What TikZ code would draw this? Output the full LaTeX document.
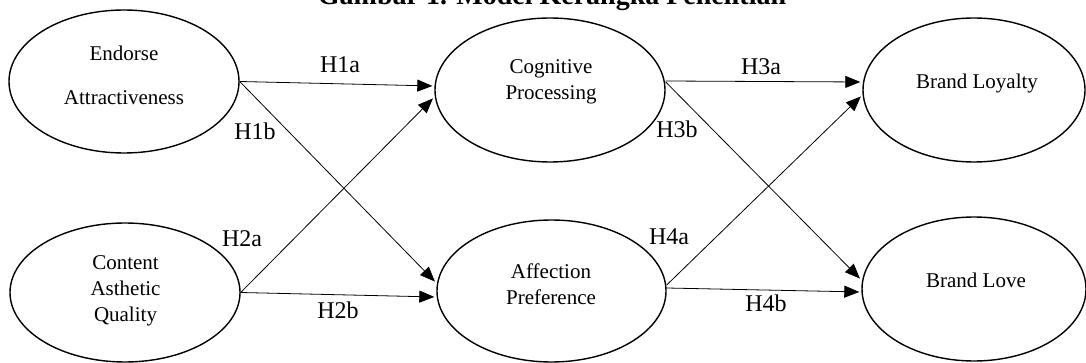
\documentclass[tikz,border=0pt]{standalone}
\usepackage{fontspec}
\setmainfont{Liberation Serif}
\usetikzlibrary{shapes.geometric,arrows.meta}
\begin{document}
\begin{tikzpicture}[x=1pt,y=-1pt,
  var/.style={draw,ellipse,line width=1.4pt,inner sep=0pt,minimum width=230pt,minimum height=143pt},
  vartext/.style={align=center,inner sep=0pt,font=\fontsize{21}{26}\selectfont},
  hyp/.style={inner sep=0pt,font=\fontsize{24}{28}\selectfont},
  link/.style={-{Triangle[length=15pt,width=12pt]},line width=0.8pt,shorten >=2pt}]
\useasboundingbox (0,0) rectangle (1086,363);

\node[anchor=base,font=\fontsize{28}{30}\selectfont\bfseries] (title) at (552,5) {Gambar 1. Model Kerangka Penelitian};

\node[var] (ea) at (124,81.5) {};
\node[var,minimum height=139pt] (ca) at (125,292.5) {};
\node[var,minimum height=144pt] (cp) at (550,90) {};
\node[var,minimum width=229pt,minimum height=142pt] (ap) at (551.5,291) {};
\node[var,minimum width=222pt,minimum height=144pt] (bl) at (974,90) {};
\node[var,minimum width=224pt,minimum height=144pt] (blv) at (974,289) {};

\node[vartext] (ea-t) at (124,75) {Endorse\\[18pt]Attractiveness};
\node[vartext] (ca-t) at (125.5,291) {Content\\Asthetic\\Quality};
\node[vartext] (cp-t) at (551,82) {Cognitive\\Processing};
\node[vartext] (ap-t) at (551,284) {Affection\\Preference};
\node[vartext] (bl-t) at (977,83) {Brand Loyalty};
\node[vartext] (blv-t) at (976,280) {Brand Love};

\draw[link] (ea.east) -- ([yshift=4pt]cp.west);
\draw[link] (ea.east) -- ([yshift=8pt]ap.west);
\draw[link] (ca.east) -- ([yshift=-7pt]cp.west);
\draw[link] (ca.east) -- ([yshift=-6pt]ap.west);
\draw[link] ([yshift=9pt]cp.east) -- ([yshift=8pt]bl.west);
\draw[link] ([yshift=8pt]cp.east) -- ([yshift=9pt]blv.west);
\draw[link] ([yshift=6pt]ap.east) -- ([yshift=-5pt]bl.west);
\draw[link] ([yshift=3pt]ap.east) -- ([yshift=-3pt]blv.west);

\node[hyp] (h1a) at (340,65) {H1a};
\node[hyp] (h1b) at (255,131) {H1b};
\node[hyp] (h2a) at (242,239) {H2a};
\node[hyp] (h2b) at (338,310) {H2b};
\node[hyp] (h3a) at (761,67) {H3a};
\node[hyp] (h3b) at (677,129) {H3b};
\node[hyp] (h4a) at (669,237) {H4a};
\node[hyp] (h4b) at (766,303) {H4b};
\end{tikzpicture}
\end{document}
